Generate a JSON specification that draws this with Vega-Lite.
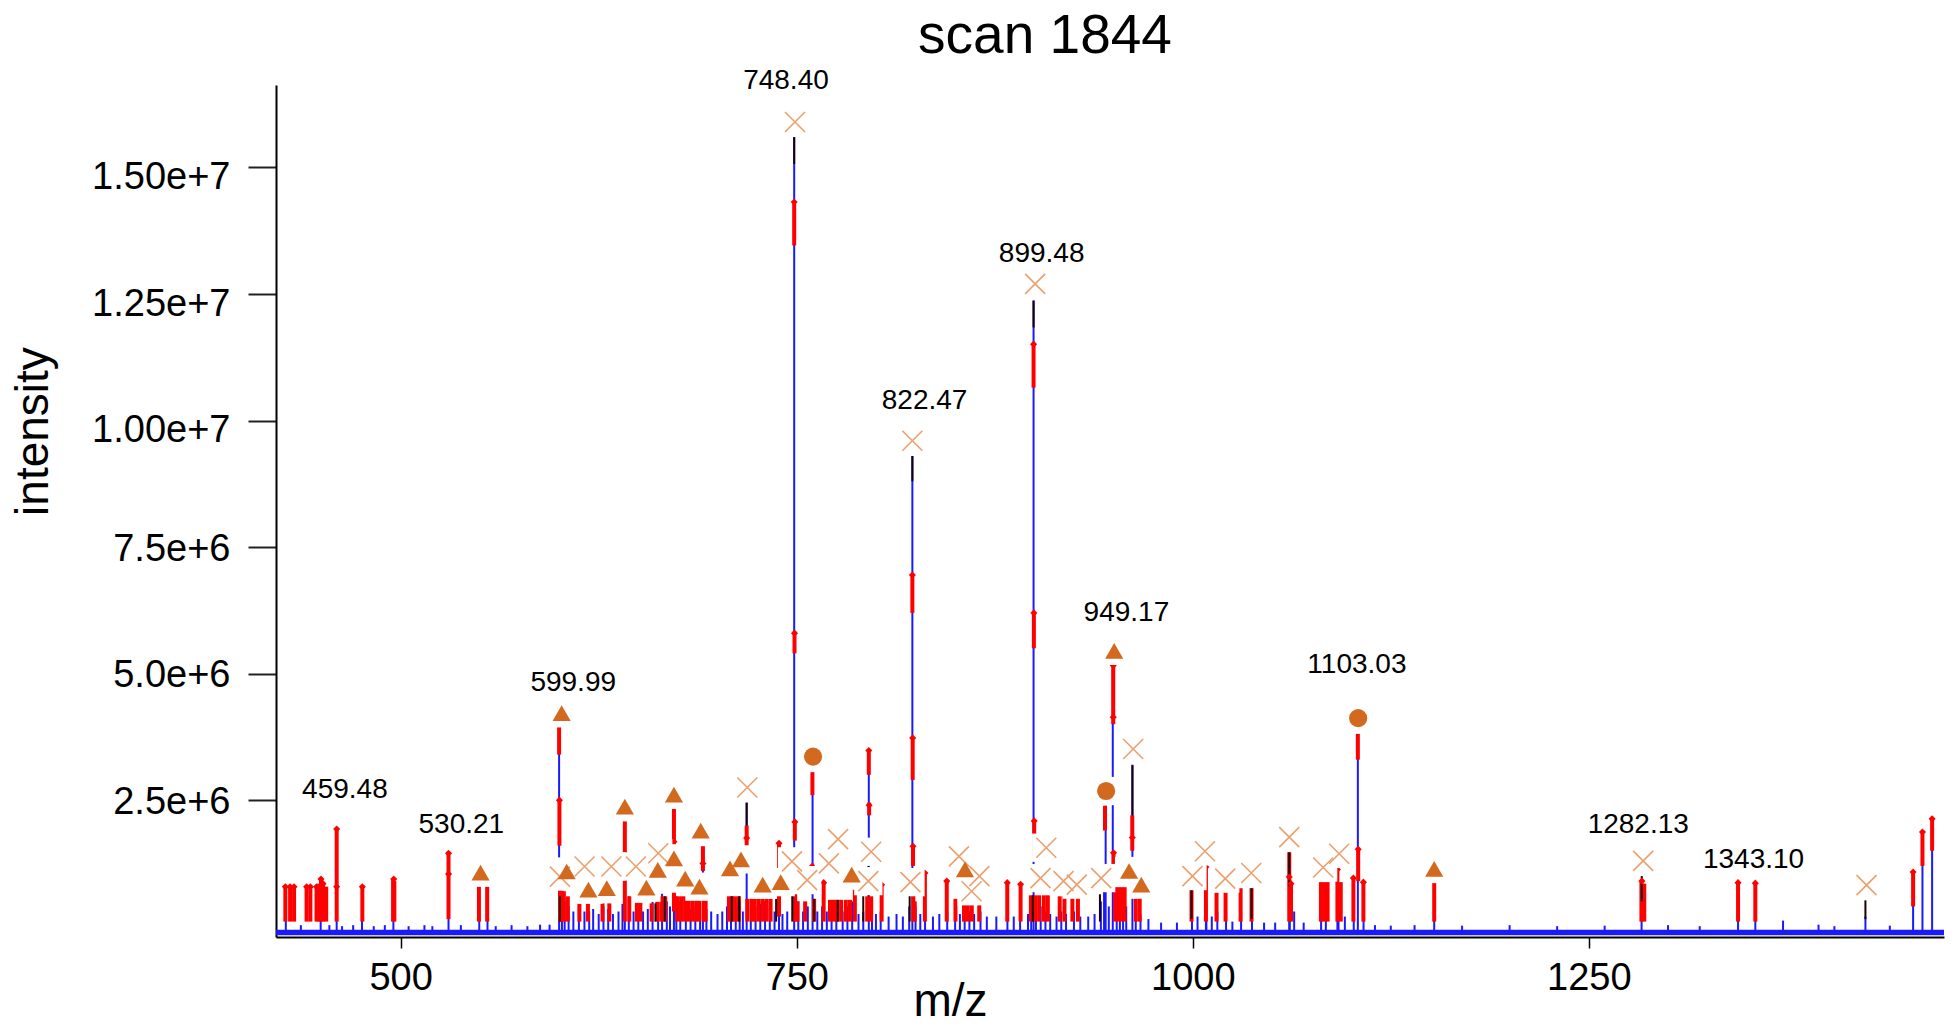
{
  "$schema": "https://vega.github.io/schema/vega-lite/v6.json",
  "width": 1668,
  "height": 852,
  "autosize": {"type": "none"},
  "padding": {"left": 276, "top": 85, "right": 10, "bottom": 90},
  "background": "white",
  "config": {"view": {"stroke": null}, "font": "Liberation Sans"},
  "title": {"text": "scan 1844", "fontSize": 55, "font": "Liberation Sans", "fontWeight": "normal", "color": "black", "anchor": "middle", "frame": "group", "dx": -65, "baseline": "alphabetic", "offset": -41},
  "datasets": {
    "base": [{"mz": 421.3, "mz2": 1474.2, "lo": -170000, "i": -60000}],
    "blue": [
      {"mz": 459.6, "i": 1.1e6}, {"mz": 530.2, "i": 9e5}, {"mz": 600.0, "i": 3.9e6}, {"mz": 641.5, "i": 1.8e6}, {"mz": 672.5, "i": 2.0e6}, {"mz": 690.8, "i": 1.4e6}, {"mz": 718.4, "i": 2.45e6}, {"mz": 738.8, "i": 1.5e6}, {"mz": 748.4, "i": 1.56e7}, {"mz": 760.0, "i": 3.05e6}, {"mz": 795.5, "i": 3.45e6}, {"mz": 823.0, "i": 9.3e6}, {"mz": 899.5, "i": 1.237e7}, {"mz": 945.0, "i": 2.39e6}, {"mz": 949.5, "i": 5.1e6}, {"mz": 961.9, "i": 3.2e6}, {"mz": 1008.3, "i": 1.0e6}, {"mz": 1060.9, "i": 1.3e6}, {"mz": 1091.3, "i": 1.0e6}, {"mz": 1104.2, "i": 3.8e6}, {"mz": 1460.6, "i": 1.87e6}, {"mz": 1466.7, "i": 2.13e6}, {"mz": 1454.7, "i": 1.08e6}, {"mz": 1283.3, "i": 4e5}, {"mz": 1344.2, "i": 3e5}, {"mz": 1355.1, "i": 2.5e5}, {"mz": 1424.6, "i": 2e5}, {"mz": 1152.4, "i": 2e5}, {"mz": 1372.6, "i": 1.2e5},
      {"mz": 427.5, "i": 1.5e5}, {"mz": 449.5, "i": 2.5e5}, {"mz": 475.6, "i": 1.5e5}, {"mz": 495.4, "i": 3e5}, {"mz": 549.6, "i": 2e5}, {"mz": 554.8, "i": 1.5e5},
      {"mz": 601.8, "i": 6e5}, {"mz": 603.5, "i": 5e5}, {"mz": 606, "i": 4e5}, {"mz": 609, "i": 3e5}, {"mz": 612.5, "i": 4e5}, {"mz": 616, "i": 3e5}, {"mz": 619, "i": 3e5}, {"mz": 621.5, "i": 3.5e5}, {"mz": 625, "i": 2.5e5}, {"mz": 628, "i": 4e5}, {"mz": 631, "i": 3.5e5}, {"mz": 634, "i": 2.5e5}, {"mz": 637.5, "i": 3e5}, {"mz": 640, "i": 4.5e5}, {"mz": 644, "i": 6e5}, {"mz": 647, "i": 3e5}, {"mz": 650, "i": 4e5}, {"mz": 653, "i": 3e5}, {"mz": 656, "i": 3.5e5}, {"mz": 659, "i": 5e5}, {"mz": 662.5, "i": 7e5}, {"mz": 665, "i": 6.5e5}, {"mz": 668, "i": 5e5}, {"mz": 670, "i": 4e5}, {"mz": 674, "i": 6e5}, {"mz": 676.5, "i": 5e5}, {"mz": 680, "i": 4.5e5}, {"mz": 683, "i": 3.5e5}, {"mz": 686, "i": 4e5}, {"mz": 689, "i": 4.5e5}, {"mz": 693, "i": 3.5e5}, {"mz": 696, "i": 3e5}, {"mz": 700, "i": 2.5e5}, {"mz": 703, "i": 3e5}, {"mz": 706, "i": 4e5}, {"mz": 708.5, "i": 5e5}, {"mz": 711.5, "i": 4.5e5}, {"mz": 714, "i": 5e5}, {"mz": 716, "i": 3e5}, {"mz": 721, "i": 6e5}, {"mz": 724, "i": 4e5}, {"mz": 727, "i": 4.5e5}, {"mz": 730, "i": 5e5}, {"mz": 733, "i": 3.5e5}, {"mz": 736, "i": 3e5}, {"mz": 741, "i": 2.5e5}, {"mz": 744, "i": 3e5}, {"mz": 751, "i": 5e5}, {"mz": 754, "i": 3e5}, {"mz": 757, "i": 4e5}, {"mz": 763, "i": 3e5}, {"mz": 766, "i": 4e5}, {"mz": 769, "i": 3e5}, {"mz": 772, "i": 4.5e5}, {"mz": 775, "i": 3.5e5}, {"mz": 779, "i": 3e5}, {"mz": 782, "i": 4e5}, {"mz": 785, "i": 5e5}, {"mz": 789, "i": 2.5e5}, {"mz": 792, "i": 3e5}, {"mz": 797.5, "i": 5e5}, {"mz": 800, "i": 2.5e5}, {"mz": 803, "i": 3e5}, {"mz": 808, "i": 2e5}, {"mz": 813, "i": 2.5e5}, {"mz": 817, "i": 2e5}, {"mz": 821, "i": 4e5}, {"mz": 825, "i": 4e5}, {"mz": 828, "i": 2.5e5}, {"mz": 831, "i": 3.5e5}, {"mz": 836, "i": 2e5}, {"mz": 840, "i": 2.5e5}, {"mz": 845, "i": 3e5}, {"mz": 850, "i": 3.5e5}, {"mz": 853, "i": 2.5e5}, {"mz": 856, "i": 4e5}, {"mz": 859, "i": 3e5}, {"mz": 862, "i": 2.5e5}, {"mz": 866, "i": 3e5}, {"mz": 870, "i": 2e5}, {"mz": 876, "i": 2e5}, {"mz": 883, "i": 3e5}, {"mz": 887, "i": 2e5}, {"mz": 891, "i": 3e5}, {"mz": 896, "i": 2.5e5}, {"mz": 898, "i": 3.5e5}, {"mz": 901, "i": 3e5}, {"mz": 904, "i": 4e5}, {"mz": 907, "i": 3e5}, {"mz": 910, "i": 2.5e5}, {"mz": 914, "i": 2e5}, {"mz": 917, "i": 3e5}, {"mz": 920, "i": 2.5e5}, {"mz": 925, "i": 3e5}, {"mz": 929, "i": 2e5}, {"mz": 934, "i": 2e5}, {"mz": 938, "i": 2.5e5}, {"mz": 942, "i": 5e5}, {"mz": 944, "i": 7e5}, {"mz": 947, "i": 4e5}, {"mz": 952, "i": 5e5}, {"mz": 954, "i": 4e5}, {"mz": 956, "i": 3.5e5}, {"mz": 958, "i": 4e5}, {"mz": 964, "i": 3e5}, {"mz": 967, "i": 2.5e5}, {"mz": 972, "i": 1.5e5}, {"mz": 980, "i": 8e4}, {"mz": 990, "i": 8e4}, {"mz": 999.5, "i": 4e5}, {"mz": 1003, "i": 2e5}, {"mz": 1008.6, "i": 5e5}, {"mz": 1012, "i": 2e5}, {"mz": 1015.5, "i": 3e5}, {"mz": 1021, "i": 3e5}, {"mz": 1025, "i": 1e5}, {"mz": 1030.5, "i": 3e5}, {"mz": 1037.4, "i": 3e5}, {"mz": 1045, "i": 8e4}, {"mz": 1052, "i": 8e4}, {"mz": 1061.2, "i": 8e5}, {"mz": 1064, "i": 3e5}, {"mz": 1070, "i": 8e4}, {"mz": 1081, "i": 4e5}, {"mz": 1084, "i": 3e5}, {"mz": 1092, "i": 8e5}, {"mz": 1096, "i": 2e5}, {"mz": 1101.6, "i": 5e5}, {"mz": 1107.8, "i": 3e5},
      {"mz": 1115, "i": 3e4}, {"mz": 1125, "i": 2e4}, {"mz": 1140, "i": 3e4}, {"mz": 1170, "i": 2e4}, {"mz": 1200, "i": 3e4}, {"mz": 1230, "i": 1e4}, {"mz": 1260, "i": 2e4}, {"mz": 1300, "i": 3e4}, {"mz": 1320, "i": 1e4}, {"mz": 1395, "i": 4e4}, {"mz": 1405, "i": 1e4}, {"mz": 1440, "i": 2e4},
      {"mz": 437, "i": 3e4}, {"mz": 455, "i": 3e4}, {"mz": 463, "i": 1e4}, {"mz": 470, "i": 3e4}, {"mz": 483, "i": 1e4}, {"mz": 490, "i": 3e4}, {"mz": 505, "i": 1e4}, {"mz": 515, "i": 3e4}, {"mz": 520, "i": 1e4}, {"mz": 538, "i": 3e4}, {"mz": 560, "i": 1e4}, {"mz": 570, "i": 3e4}, {"mz": 580, "i": 1e4}, {"mz": 588, "i": 4e4}, {"mz": 594, "i": 4e4}
    ],
    "red": [
      {"mz": 427.2, "lo": 1e5, "i": 7.9e5}, {"mz": 430.2, "lo": 1e5, "i": 7.9e5}, {"mz": 432.7, "lo": 1e5, "i": 7.9e5}, {"mz": 440.6, "lo": 1e5, "i": 7.9e5}, {"mz": 443.0, "lo": 1e5, "i": 7.9e5}, {"mz": 446.9, "lo": 1e5, "i": 7.9e5}, {"mz": 448.5, "lo": 1e5, "i": 8.5e5}, {"mz": 449.7, "lo": 1e5, "i": 9.4e5}, {"mz": 451.0, "lo": 1e5, "i": 8.5e5}, {"mz": 453.0, "lo": 1e5, "i": 7.9e5}, {"mz": 459.6, "lo": 1e5, "i": 1.93e6}, {"mz": 475.8, "lo": 1e5, "i": 7.9e5}, {"mz": 495.2, "lo": 1e5, "i": 9.4e5}, {"mz": 496.0, "lo": 1e5, "i": 9.0e5}, {"mz": 530.2, "lo": 1.5e5, "i": 1.45e6}, {"mz": 549.4, "lo": 1e5, "i": 7.9e5}, {"mz": 554.6, "lo": 1e5, "i": 7.9e5},
      {"mz": 600.0, "lo": 3.4e6, "i": 3.94e6}, {"mz": 600.2, "lo": 1.6e6, "i": 2.5e6}, {"mz": 600.6, "lo": 1e5, "i": 1.0e6}, {"mz": 601.5, "lo": 1e5, "i": 9e5}, {"mz": 603.0, "lo": 1e5, "i": 7e5}, {"mz": 605.5, "lo": 1e5, "i": 6e5}, {"mz": 612.8, "lo": 1e5, "i": 4.6e5}, {"mz": 618.2, "lo": 1e5, "i": 4.6e5}, {"mz": 627.4, "lo": 1e5, "i": 4.6e5}, {"mz": 631.7, "lo": 1e5, "i": 4.6e5}, {"mz": 641.5, "lo": 1e5, "i": 2.08e6}, {"mz": 644.3, "lo": 1e5, "i": 6e5}, {"mz": 649.1, "lo": 1e5, "i": 4.7e5}, {"mz": 651.3, "lo": 1e5, "i": 4.7e5}, {"mz": 658.4, "lo": 1e5, "i": 4.6e5}, {"mz": 662.0, "lo": 1e5, "i": 8e5}, {"mz": 664.5, "lo": 1e5, "i": 6e5}, {"mz": 667.0, "lo": 1e5, "i": 6e5}, {"mz": 672.5, "lo": 3e5, "i": 2.33e6}, {"mz": 674.5, "lo": 1e5, "i": 6e5}, {"mz": 677.0, "lo": 1e5, "i": 6e5}, {"mz": 679.5, "lo": 1e5, "i": 6e5}, {"mz": 681.5, "lo": 1e5, "i": 6e5}, {"mz": 684.0, "lo": 1e5, "i": 5.5e5}, {"mz": 686.5, "lo": 1e5, "i": 5.5e5}, {"mz": 688.5, "lo": 1e5, "i": 5.5e5}, {"mz": 690.8, "lo": 1.1e6, "i": 1.59e6}, {"mz": 691.3, "lo": 1e5, "i": 5.5e5}, {"mz": 692.5, "lo": 1e5, "i": 5.5e5}, {"mz": 707.2, "lo": 1e5, "i": 6e5}, {"mz": 709.0, "lo": 1e5, "i": 6e5}, {"mz": 711.0, "lo": 1e5, "i": 6e5}, {"mz": 713.5, "lo": 1e5, "i": 6e5}, {"mz": 718.4, "lo": 1.5e6, "i": 2.0e6}, {"mz": 718.8, "lo": 1e5, "i": 5.5e5}, {"mz": 721.5, "lo": 1e5, "i": 5.5e5}, {"mz": 723.5, "lo": 1e5, "i": 5.5e5}, {"mz": 726.0, "lo": 1e5, "i": 5.5e5}, {"mz": 728.5, "lo": 1e5, "i": 5.5e5}, {"mz": 731.0, "lo": 1e5, "i": 5.5e5}, {"mz": 733.5, "lo": 1e5, "i": 5.5e5}, {"mz": 738.8, "lo": 2e5, "i": 1.65e6},
      {"mz": 748.4, "lo": 1.346e7, "i": 1.432e7}, {"mz": 748.6, "lo": 5.4e6, "i": 5.83e6}, {"mz": 748.8, "lo": 1.7e6, "i": 2.07e6}, {"mz": 749.0, "lo": 1e5, "i": 1.2e6}, {"mz": 750.5, "lo": 1e5, "i": 5e5}, {"mz": 755.3, "lo": 1e5, "i": 5e5}, {"mz": 759.9, "lo": 2.6e6, "i": 3.05e6}, {"mz": 760.1, "lo": 9e5, "i": 1.2e6}, {"mz": 761.0, "lo": 1e5, "i": 5.5e5}, {"mz": 767.0, "lo": 1e5, "i": 8.7e5}, {"mz": 771.0, "lo": 1e5, "i": 5.3e5}, {"mz": 773.5, "lo": 1e5, "i": 5.3e5}, {"mz": 775.3, "lo": 1e5, "i": 5.3e5}, {"mz": 778.0, "lo": 1e5, "i": 5.3e5}, {"mz": 781.0, "lo": 1e5, "i": 5.3e5}, {"mz": 783.6, "lo": 1e5, "i": 5.3e5}, {"mz": 786.7, "lo": 1e5, "i": 7.3e5}, {"mz": 794.5, "lo": 1e5, "i": 6e5}, {"mz": 795.5, "lo": 3.0e6, "i": 3.48e6}, {"mz": 795.7, "lo": 2.2e6, "i": 2.45e6}, {"mz": 797.0, "lo": 1e5, "i": 6e5}, {"mz": 803.6, "lo": 1e5, "i": 8.3e5},
      {"mz": 823.0, "lo": 6.2e6, "i": 6.95e6}, {"mz": 823.2, "lo": 2.9e6, "i": 3.73e6}, {"mz": 823.4, "lo": 1.2e6, "i": 1.59e6}, {"mz": 823.6, "lo": 1e5, "i": 9e5}, {"mz": 824.5, "lo": 1e5, "i": 5e5}, {"mz": 830.9, "lo": 1e5, "i": 1.06e6}, {"mz": 844.7, "lo": 1e5, "i": 9e5}, {"mz": 850.2, "lo": 1e5, "i": 5.5e5}, {"mz": 855.6, "lo": 1e5, "i": 5.5e5}, {"mz": 858.0, "lo": 1e5, "i": 5.5e5}, {"mz": 860.5, "lo": 1e5, "i": 5.5e5}, {"mz": 865.2, "lo": 1e5, "i": 5.5e5}, {"mz": 882.9, "lo": 1e5, "i": 8.7e5}, {"mz": 891.3, "lo": 1e5, "i": 8.4e5}, {"mz": 897.8, "lo": 1e5, "i": 6.2e5},
      {"mz": 899.5, "lo": 1.065e7, "i": 1.151e7}, {"mz": 899.7, "lo": 5.5e6, "i": 6.2e6}, {"mz": 899.9, "lo": 1.8e6, "i": 2.09e6}, {"mz": 900.5, "lo": 1e5, "i": 6.2e5}, {"mz": 903.0, "lo": 1e5, "i": 6.2e5}, {"mz": 906.0, "lo": 1e5, "i": 6.2e5}, {"mz": 908.5, "lo": 1e5, "i": 6.2e5}, {"mz": 916.0, "lo": 1e5, "i": 6e5}, {"mz": 919.0, "lo": 1e5, "i": 6e5}, {"mz": 924.0, "lo": 1e5, "i": 6e5}, {"mz": 927.5, "lo": 1e5, "i": 6e5}, {"mz": 944.6, "lo": 1.9e6, "i": 2.39e6}, {"mz": 949.8, "lo": 4.0e6, "i": 5.16e6}, {"mz": 950.0, "lo": 1.1e6, "i": 1.46e6}, {"mz": 951.0, "lo": 1e5, "i": 7.8e5}, {"mz": 953.0, "lo": 1e5, "i": 7.8e5}, {"mz": 955.0, "lo": 1e5, "i": 7.8e5}, {"mz": 957.0, "lo": 1e5, "i": 7.8e5}, {"mz": 961.8, "lo": 1.5e6, "i": 2.2e6}, {"mz": 964.0, "lo": 1e5, "i": 5.7e5}, {"mz": 966.5, "lo": 1e5, "i": 5.7e5},
      {"mz": 999.2, "lo": 1e5, "i": 7.3e5}, {"mz": 1008.3, "lo": 1e5, "i": 1.18e6}, {"mz": 1015.0, "lo": 1e5, "i": 6.8e5}, {"mz": 1020.7, "lo": 1e5, "i": 6.8e5}, {"mz": 1030.2, "lo": 1e5, "i": 7.6e5}, {"mz": 1037.1, "lo": 1e5, "i": 7.6e5}, {"mz": 1060.9, "lo": 1e5, "i": 1.47e6}, {"mz": 1062.0, "lo": 1e5, "i": 8.5e5}, {"mz": 1080.9, "lo": 1e5, "i": 8.8e5}, {"mz": 1083.0, "lo": 1e5, "i": 8.8e5}, {"mz": 1085.1, "lo": 1e5, "i": 8.8e5}, {"mz": 1091.3, "lo": 1e5, "i": 1.13e6}, {"mz": 1093.4, "lo": 1e5, "i": 8.8e5}, {"mz": 1101.4, "lo": 1e5, "i": 9.6e5}, {"mz": 1104.2, "lo": 3.3e6, "i": 3.81e6}, {"mz": 1104.4, "lo": 9e5, "i": 1.53e6}, {"mz": 1107.7, "lo": 1e5, "i": 8.8e5}, {"mz": 1152.4, "lo": 1e5, "i": 8.7e5}, {"mz": 1283.2, "lo": 1e5, "i": 9e5}, {"mz": 1285.0, "lo": 1e5, "i": 8.5e5}, {"mz": 1344.2, "lo": 1e5, "i": 8.7e5}, {"mz": 1355.1, "lo": 1e5, "i": 8.6e5}, {"mz": 1454.7, "lo": 4e5, "i": 1.08e6}, {"mz": 1460.6, "lo": 1.2e6, "i": 1.87e6}, {"mz": 1466.7, "lo": 1.5e6, "i": 2.13e6}
    ],
    "black": [
      {"mz": 748.4, "lo": 1.507e7, "i": 1.56e7}, {"mz": 823.0, "lo": 8.8e6, "i": 9.3e6}, {"mz": 899.5, "lo": 1.184e7, "i": 1.237e7}, {"mz": 718.4, "lo": 2.0e6, "i": 2.45e6}, {"mz": 961.9, "lo": 2.2e6, "i": 3.19e6}, {"mz": 795.3, "lo": 6e5, "i": 1.2e6}, {"mz": 821.3, "lo": 1e5, "i": 6.1e5}, {"mz": 941.4, "lo": 1e5, "i": 6.4e5}, {"mz": 999.2, "lo": 1.5e5, "i": 7.3e5}, {"mz": 1037.1, "lo": 1.5e5, "i": 7.6e5}, {"mz": 1060.9, "lo": 8e5, "i": 1.47e6}, {"mz": 1283.4, "lo": 5e5, "i": 1.0e6}, {"mz": 1424.6, "lo": 1.5e5, "i": 5.2e5}, {"mz": 600.5, "lo": 1e5, "i": 6e5}, {"mz": 660.8, "lo": 1e5, "i": 4.6e5}, {"mz": 666.6, "lo": 1e5, "i": 6e5}, {"mz": 709.0, "lo": 1e5, "i": 6e5}, {"mz": 713.6, "lo": 1e5, "i": 6e5}, {"mz": 737.0, "lo": 1e5, "i": 5.5e5}, {"mz": 747.2, "lo": 1e5, "i": 9e5}, {"mz": 761.0, "lo": 1e5, "i": 5.5e5}, {"mz": 775.9, "lo": 1e5, "i": 5.3e5}, {"mz": 792.0, "lo": 1e5, "i": 6e5}, {"mz": 899.0, "lo": 1e5, "i": 6.2e5}
    ],
    "dia": [
      {"mz": 427.2, "i": 7.9e5}, {"mz": 430.2, "i": 7.9e5}, {"mz": 432.7, "i": 7.9e5}, {"mz": 440.6, "i": 7.9e5}, {"mz": 443.0, "i": 7.9e5}, {"mz": 446.9, "i": 7.9e5}, {"mz": 449.7, "i": 9.4e5}, {"mz": 451.0, "i": 8.5e5}, {"mz": 459.6, "i": 1.93e6}, {"mz": 459.6, "i": 7.9e5}, {"mz": 475.8, "i": 7.9e5}, {"mz": 495.6, "i": 9.4e5}, {"mz": 530.2, "i": 1.45e6}, {"mz": 530.2, "i": 1.04e6}, {"mz": 600.2, "i": 2.5e6}, {"mz": 641.5, "i": 1.45e6}, {"mz": 672.5, "i": 1.68e6}, {"mz": 690.8, "i": 1.25e6}, {"mz": 718.4, "i": 1.75e6}, {"mz": 738.8, "i": 1.65e6}, {"mz": 748.4, "i": 1.432e7}, {"mz": 748.6, "i": 5.8e6}, {"mz": 748.8, "i": 2.07e6}, {"mz": 759.9, "i": 1.2e6}, {"mz": 767.0, "i": 8.7e5}, {"mz": 795.5, "i": 3.48e6}, {"mz": 795.7, "i": 2.4e6}, {"mz": 803.6, "i": 8.3e5}, {"mz": 823.0, "i": 6.95e6}, {"mz": 823.2, "i": 3.73e6}, {"mz": 823.4, "i": 1.59e6}, {"mz": 830.9, "i": 1.06e6}, {"mz": 844.7, "i": 9e5}, {"mz": 882.9, "i": 8.7e5}, {"mz": 891.3, "i": 8.4e5}, {"mz": 899.5, "i": 1.151e7}, {"mz": 899.7, "i": 6.2e6}, {"mz": 899.9, "i": 2.09e6}, {"mz": 949.8, "i": 5.16e6}, {"mz": 949.8, "i": 4.14e6}, {"mz": 950.0, "i": 1.46e6}, {"mz": 961.8, "i": 1.76e6}, {"mz": 1008.3, "i": 1.18e6}, {"mz": 1060.9, "i": 9.8e5}, {"mz": 1062.0, "i": 8.5e5}, {"mz": 1091.3, "i": 1.13e6}, {"mz": 1101.4, "i": 9.6e5}, {"mz": 1104.4, "i": 1.53e6}, {"mz": 1107.7, "i": 8.8e5}, {"mz": 1283.5, "i": 9e5}, {"mz": 1344.2, "i": 8.7e5}, {"mz": 1355.1, "i": 8.6e5}, {"mz": 1454.7, "i": 1.08e6}, {"mz": 1460.6, "i": 1.87e6}, {"mz": 1466.7, "i": 2.13e6}
    ],
    "mk": [
      {"mz": 748.9, "i": 1.59e7, "kind": "x"}, {"mz": 823.0, "i": 9.6e6, "kind": "x"}, {"mz": 900.5, "i": 1.27e7, "kind": "x"}, {"mz": 962.4, "i": 3.51e6, "kind": "x"}, {"mz": 1284.3, "i": 1.30e6, "kind": "x"}, {"mz": 1425.3, "i": 8.2e5, "kind": "x"}, {"mz": 718.8, "i": 2.75e6, "kind": "x"}, {"mz": 776.1, "i": 1.73e6, "kind": "x"}, {"mz": 797.0, "i": 1.48e6, "kind": "x"}, {"mz": 770.3, "i": 1.25e6, "kind": "x"}, {"mz": 747.0, "i": 1.29e6, "kind": "x"}, {"mz": 756.6, "i": 9.2e5, "kind": "x"}, {"mz": 795.2, "i": 9e5, "kind": "x"}, {"mz": 821.8, "i": 8.8e5, "kind": "x"}, {"mz": 852.4, "i": 1.39e6, "kind": "x"}, {"mz": 860.4, "i": 7.0e5, "kind": "x"}, {"mz": 865.3, "i": 1.0e6, "kind": "x"}, {"mz": 907.5, "i": 1.56e6, "kind": "x"}, {"mz": 903.9, "i": 9.6e5, "kind": "x"}, {"mz": 918.4, "i": 9e5, "kind": "x"}, {"mz": 926.8, "i": 8.3e5, "kind": "x"}, {"mz": 942.2, "i": 9.6e5, "kind": "x"}, {"mz": 999.8, "i": 1.0e6, "kind": "x"}, {"mz": 1007.7, "i": 1.49e6, "kind": "x"}, {"mz": 1020.5, "i": 9.5e5, "kind": "x"}, {"mz": 1036.9, "i": 1.06e6, "kind": "x"}, {"mz": 1060.9, "i": 1.77e6, "kind": "x"}, {"mz": 1082.3, "i": 1.17e6, "kind": "x"}, {"mz": 1092.4, "i": 1.44e6, "kind": "x"}, {"mz": 600.5, "i": 9.9e5, "kind": "x"}, {"mz": 616.1, "i": 1.19e6, "kind": "x"}, {"mz": 633.0, "i": 1.19e6, "kind": "x"}, {"mz": 648.5, "i": 1.19e6, "kind": "x"}, {"mz": 662.6, "i": 1.45e6, "kind": "x"},
      {"mz": 601.6, "i": 4.22e6, "kind": "tri"}, {"mz": 550.4, "i": 1.07e6, "kind": "tri"}, {"mz": 604.8, "i": 1.09e6, "kind": "tri"}, {"mz": 618.5, "i": 7.3e5, "kind": "tri"}, {"mz": 630.1, "i": 7.6e5, "kind": "tri"}, {"mz": 641.5, "i": 2.37e6, "kind": "tri"}, {"mz": 655.1, "i": 7.7e5, "kind": "tri"}, {"mz": 662.3, "i": 1.12e6, "kind": "tri"}, {"mz": 672.5, "i": 2.61e6, "kind": "tri"}, {"mz": 672.5, "i": 1.35e6, "kind": "tri"}, {"mz": 679.6, "i": 9.5e5, "kind": "tri"}, {"mz": 689.4, "i": 1.90e6, "kind": "tri"}, {"mz": 688.6, "i": 7.9e5, "kind": "tri"}, {"mz": 707.9, "i": 1.15e6, "kind": "tri"}, {"mz": 714.8, "i": 1.33e6, "kind": "tri"}, {"mz": 728.5, "i": 8.3e5, "kind": "tri"}, {"mz": 739.9, "i": 8.8e5, "kind": "tri"}, {"mz": 784.7, "i": 1.03e6, "kind": "tri"}, {"mz": 856.2, "i": 1.13e6, "kind": "tri"}, {"mz": 950.4, "i": 5.45e6, "kind": "tri"}, {"mz": 959.8, "i": 1.1e6, "kind": "tri"}, {"mz": 967.5, "i": 8.3e5, "kind": "tri"}, {"mz": 1152.4, "i": 1.14e6, "kind": "tri"},
      {"mz": 760.3, "i": 3.36e6, "kind": "circ"}, {"mz": 945.3, "i": 2.68e6, "kind": "circ"}, {"mz": 1104.4, "i": 4.12e6, "kind": "circ"}
    ],
    "lab": [
      {"mz": 464.8, "i": 2.71e6, "t": "459.48"}, {"mz": 538.3, "i": 2.0e6, "t": "530.21"}, {"mz": 608.9, "i": 4.82e6, "t": "599.99"}, {"mz": 743.2, "i": 1.67e7, "t": "748.40"}, {"mz": 830.7, "i": 1.039e7, "t": "822.47"}, {"mz": 904.6, "i": 1.33e7, "t": "899.48"}, {"mz": 958.1, "i": 6.2e6, "t": "949.17"}, {"mz": 1103.6, "i": 5.17e6, "t": "1103.03"}, {"mz": 1281.2, "i": 2.0e6, "t": "1282.13"}, {"mz": 1354.0, "i": 1.32e6, "t": "1343.10"}
    ]
  },
  "encoding": {
    "x": {"field": "mz", "type": "quantitative", "scale": {"domain": [421.3, 1474.2], "nice": false, "zero": false},
      "axis": {"title": "m/z", "values": [500, 750, 1000, 1250], "format": "d", "grid": false, "labelFontSize": 38, "labelFont": "Liberation Sans", "labelColor": "black", "labelPadding": 11, "labelFlush": false, "labelOverlap": false, "tickSize": 11, "tickWidth": 1.5, "tickColor": "black", "domainColor": "black", "domainWidth": 2, "titleFontSize": 46, "titleFont": "Liberation Sans", "titleFontWeight": "normal", "titleColor": "black", "titleX": 674, "titleY": 78, "titleBaseline": "alphabetic", "titleAlign": "center"}},
    "y": {"field": "i", "type": "quantitative", "scale": {"domain": [-204000, 16630000], "nice": false, "zero": false},
      "axis": {"title": "intensity", "values": [2500000, 5000000, 7500000, 10000000, 12500000, 15000000], "labelExpr": "datum.value == 2500000 ? '2.5e+6' : datum.value == 5000000 ? '5.0e+6' : datum.value == 7500000 ? '7.5e+6' : datum.value == 10000000 ? '1.00e+7' : datum.value == 12500000 ? '1.25e+7' : '1.50e+7'", "grid": false, "labelFontSize": 38, "labelFont": "Liberation Sans", "labelColor": "black", "labelPadding": 18, "labelBaseline": "middle", "labelOffset": {"condition": {"test": "datum.value >= 10000000", "value": 10}, "value": 2}, "labelFlush": false, "labelOverlap": false, "tickSize": 28, "tickWidth": 2, "tickColor": "#222222", "domainColor": "black", "domainWidth": 2, "titleFontSize": 46, "titleFont": "Liberation Sans", "titleFontWeight": "normal", "titleColor": "black", "titleX": -229, "titleY": 346, "titleAngle": 270, "titleBaseline": "alphabetic", "titleAlign": "center"}}
  },
  "layer": [
    {"data": {"name": "base"}, "mark": {"type": "rect", "color": "#1a1aff"}, "encoding": {"x2": {"field": "mz2"}, "y2": {"field": "lo"}}},
    {"data": {"name": "blue"}, "mark": {"type": "rule", "color": "#1a1aff", "strokeWidth": 2}, "encoding": {"y2": {"datum": -100000}}},
    {"data": {"name": "red"}, "mark": {"type": "rule", "color": "#ff0000", "strokeWidth": 4}, "encoding": {"y2": {"field": "lo"}}},
    {"data": {"name": "black"}, "mark": {"type": "rule", "color": "#1a0000", "strokeWidth": 2}, "encoding": {"y2": {"field": "lo"}}},
    {"data": {"name": "dia"}, "mark": {"type": "point", "shape": "diamond", "filled": true, "color": "#ff0000", "size": 50, "opacity": 1}},
    {"data": {"name": "mk"}, "mark": {"type": "point", "shape": "square", "filled": true, "color": "white", "size": 800, "opacity": 1}},
    {"data": {"name": "mk"}, "transform": [{"filter": "datum.kind == 'x'"}], "mark": {"type": "point", "shape": "M-1,-1L1,1M-1,1L1,-1", "filled": false, "color": "#eba06e", "strokeWidth": 1.6, "size": 400, "opacity": 1}},
    {"data": {"name": "mk"}, "transform": [{"filter": "datum.kind == 'tri'"}], "mark": {"type": "point", "shape": "triangle-up", "filled": true, "color": "#d2691e", "size": 330, "opacity": 1}},
    {"data": {"name": "mk"}, "transform": [{"filter": "datum.kind == 'circ'"}], "mark": {"type": "point", "shape": "circle", "filled": true, "color": "#d2691e", "size": 330, "opacity": 1}},
    {"data": {"name": "lab"}, "mark": {"type": "text", "fontSize": 28, "font": "Liberation Sans", "color": "black", "align": "center", "baseline": "middle"}, "encoding": {"text": {"field": "t"}}}
  ]
}
